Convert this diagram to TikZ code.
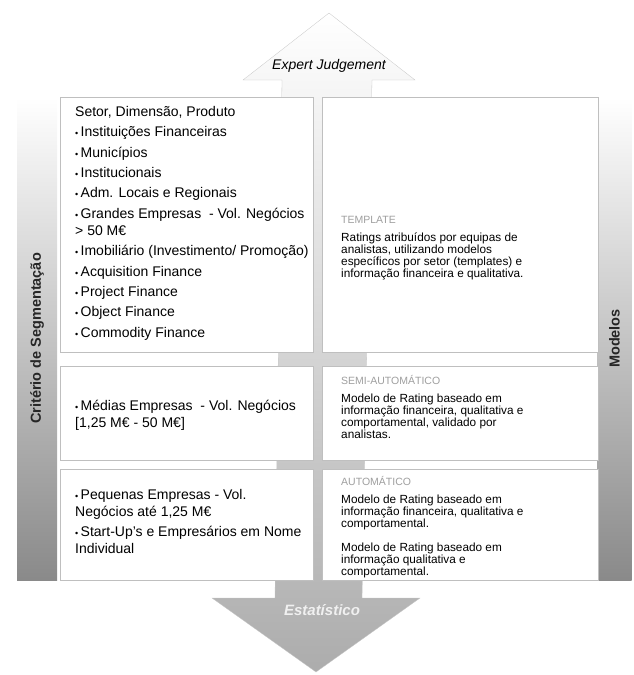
\documentclass[tikz,border=0pt]{standalone}
\usepackage{fontspec}
\setmainfont{Liberation Sans}
\usetikzlibrary{positioning}

\newcommand{\dotitem}{{\fontsize{9}{9}\selectfont •}\,}

\tikzset{
  panel/.style={draw=gray!50, fill=white, line width=0.4pt, inner sep=0pt, anchor=north west},
  sidebar/.style={top color=white, middle color=gray!58, bottom color=gray!92, inner sep=0pt,
    font=\bfseries\fontsize{14.5}{15}\selectfont, text=black!85},
  item/.style={anchor=north west, inner sep=0pt, align=left, font=\fontsize{14}{17}\selectfont},
  modeltitle/.style={anchor=north west, inner sep=0pt, font=\fontsize{10.5}{11}\selectfont, text=gray!75},
  modeltext/.style={anchor=north west, inner sep=0pt, align=left, font=\fontsize{11.8}{12}\selectfont},
}

\begin{document}
\begin{tikzpicture}[x=1pt, y=-1pt]
\useasboundingbox (0,0) rectangle (633,675);

\shade[top color=white, bottom color=gray!65, draw=gray!45, line width=0.3pt]
  (329,13) -- (415,80) -- (372,80) -- (362,598) -- (420,598) -- (316,672)
  -- (212,598) -- (275,598) -- (282,80) -- (243,80) -- cycle;
\node[font=\itshape\fontsize{14}{14}\selectfont] (expert) at (329,66) {Expert Judgement};
\node[font=\bfseries\itshape\fontsize{15}{15}\selectfont, text=gray!12] (estat) at (322,610) {Estatístico};

\node[sidebar, minimum width=40pt, minimum height=483pt] (crit) at (37,338.5) {\rotatebox{90}{Critério de Segmentação}};
\node[sidebar, minimum width=34pt, minimum height=483pt] (modl) at (614.5,338.5) {\rotatebox{90}{Modelos}};

\node[panel, minimum width=253pt, minimum height=255pt] (seg) at (60,97) {};
\node[panel, minimum width=253pt, minimum height=94pt] (med) at (60,366) {};
\node[panel, minimum width=253pt, minimum height=111pt] (peq) at (60,469) {};
\node[panel, minimum width=276pt, minimum height=255pt] (tpl) at (322,97) {};
\node[panel, minimum width=276pt, minimum height=94pt] (semi) at (322,366) {};
\node[panel, minimum width=276pt, minimum height=111pt] (auto) at (322,469) {};

\node[item, below right=9pt and 15pt of seg.north west] (segtxt) {Setor, Dimensão, Produto\\[3.4pt]
  \dotitem Instituições Financeiras\\[3.4pt]
  \dotitem Municípios\\[3.4pt]
  \dotitem Institucionais\\[3.4pt]
  \dotitem Adm. Locais e Regionais\\[3.4pt]
  \dotitem Grandes Empresas\ \ - Vol. Negócios\\
  > 50 M€\\[3.4pt]
  \dotitem Imobiliário (Investimento/ Promoção)\\[3.4pt]
  \dotitem Acquisition Finance\\[3.4pt]
  \dotitem Project Finance\\[3.4pt]
  \dotitem Object Finance\\[3.4pt]
  \dotitem Commodity Finance};
\node[item, below right=34pt and 15pt of med.north west] (medtxt) {\dotitem Médias Empresas\ \ - Vol. Negócios\\
  \relax[1,25 M€ - 50 M€]};
\node[item, below right=20pt and 15pt of peq.north west] (peqtxt) {\dotitem Pequenas Empresas - Vol.\\
  Negócios até 1,25 M€\\[3.4pt]
  \dotitem Start-Up's e Empresários em Nome\\
  Individual};

\node[modeltitle, below right=119pt and 19pt of tpl.north west] (tpltit) {TEMPLATE};
\node[modeltext, below=9pt of tpltit.south west, anchor=north west] (tpltxt) {Ratings atribuídos por equipas de\\
  analistas, utilizando modelos\\
  específicos por setor (templates) e\\
  informação financeira e qualitativa.};

\node[modeltitle, below right=9pt and 19pt of semi.north west] (semitit) {SEMI-AUTOMÁTICO};
\node[modeltext, below=9pt of semitit.south west, anchor=north west] (semitxt) {Modelo de Rating baseado em\\
  informação financeira, qualitativa e\\
  comportamental, validado por\\
  analistas.};

\node[modeltitle, below right=7pt and 19pt of auto.north west] (autotit) {AUTOMÁTICO};
\node[modeltext, below=9pt of autotit.south west, anchor=north west] (autotxt) {Modelo de Rating baseado em\\
  informação financeira, qualitativa e\\
  comportamental.\\[12pt]
  Modelo de Rating baseado em\\
  informação qualitativa e\\
  comportamental.};
\end{tikzpicture}
\end{document}
